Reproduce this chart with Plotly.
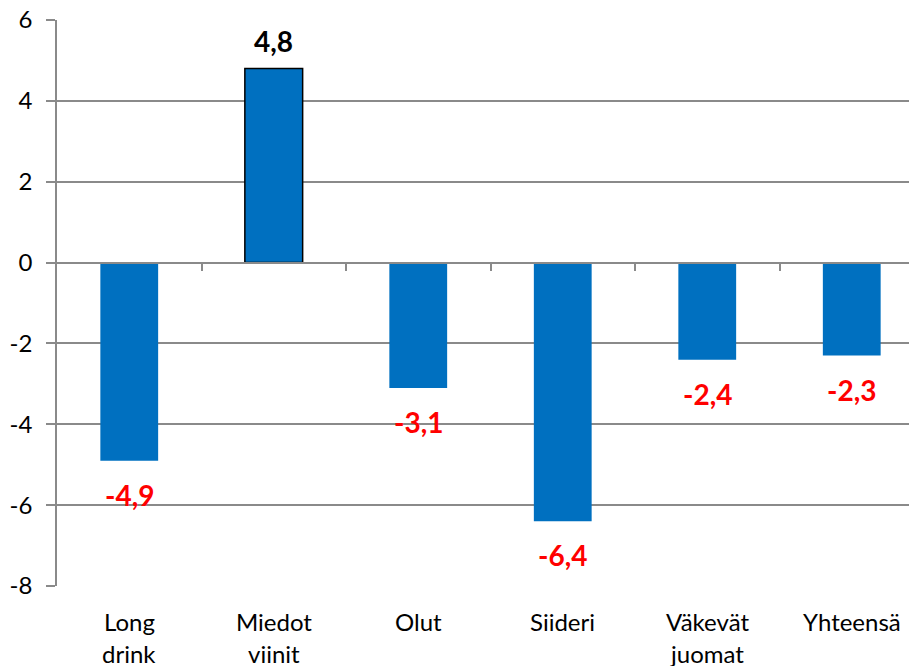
import plotly.graph_objects as go

categories_line1 = ["Long", "Miedot", "Olut", "Siideri", "Väkevät", "Yhteensä"]
categories_line2 = ["drink", "viinit", "", "", "juomat", ""]
values = [-4.9, 4.8, -3.1, -6.4, -2.4, -2.3]
value_labels = ["-4,9", "4,8", "-3,1", "-6,4", "-2,4", "-2,3"]
y_ticks = [-8, -6, -4, -2, 0, 2, 4, 6]

FONT = "Lato"
GRID = "#8a8a8a"
BAR = "#0070C0"

xs = list(range(len(values)))
fig = go.Figure()
fig.add_trace(go.Bar(
    x=xs, y=values, width=0.4,
    marker=dict(
        color=BAR,
        line=dict(color=["rgba(0,0,0,0)" if v < 0 else "black" for v in values],
                  width=[0 if v < 0 else 1.5 for v in values]),
    ),
    showlegend=False, hoverinfo="skip",
))

anns = []
for x, v, t in zip(xs, values, value_labels):
    anns.append(dict(
        x=x, y=v, xref="x", yref="y", text=f"<b>{t}</b>", showarrow=False,
        yanchor="middle", yshift=28 if v >= 0 else -34,
        font=dict(family=FONT, size=28, color="black" if v >= 0 else "#FF0000"),
    ))
for x, l1, l2 in zip(xs, categories_line1, categories_line2):
    anns.append(dict(x=x, y=0, xref="x", yref="paper", text=l1, showarrow=False,
                     yanchor="middle", yshift=-35, font=dict(family=FONT, size=24, color="black")))
    if l2:
        anns.append(dict(x=x, y=0, xref="x", yref="paper", text=l2, showarrow=False,
                         yanchor="middle", yshift=-67, font=dict(family=FONT, size=24, color="black")))

n = len(values)
fig.update_layout(
    width=909, height=658,
    margin=dict(l=49, r=0, t=12, b=80, autoexpand=False),
    paper_bgcolor="white", plot_bgcolor="white",
    annotations=anns,
    xaxis=dict(
        range=[-0.5, n - 0.5 - 7 / 144.5],
        anchor="free", position=8 / 14,
        tickvals=[i + 0.5 for i in range(n - 1)],
        showticklabels=False, ticks="outside", ticklen=8, tickcolor=GRID, tickwidth=1.5,
        showline=True, linecolor=GRID, linewidth=1.5,
        showgrid=False, zeroline=False, automargin=False,
    ),
    yaxis=dict(
        range=[-8, 6.002], tickvals=y_ticks,
        ticktext=[str(t) for t in y_ticks],
        ticks="outside", ticklen=9, tickcolor=GRID, tickwidth=1.5,
        showline=True, linecolor=GRID, linewidth=1.5,
        showgrid=True, gridcolor=GRID, gridwidth=1.5,
        zeroline=False, automargin=False,
        tickfont=dict(family=FONT, size=24, color="black"),
        ticklabelstandoff=9, ticklabeloverflow="allow",
    ),
    font=dict(family=FONT),
)
fig.write_html("out.html")
